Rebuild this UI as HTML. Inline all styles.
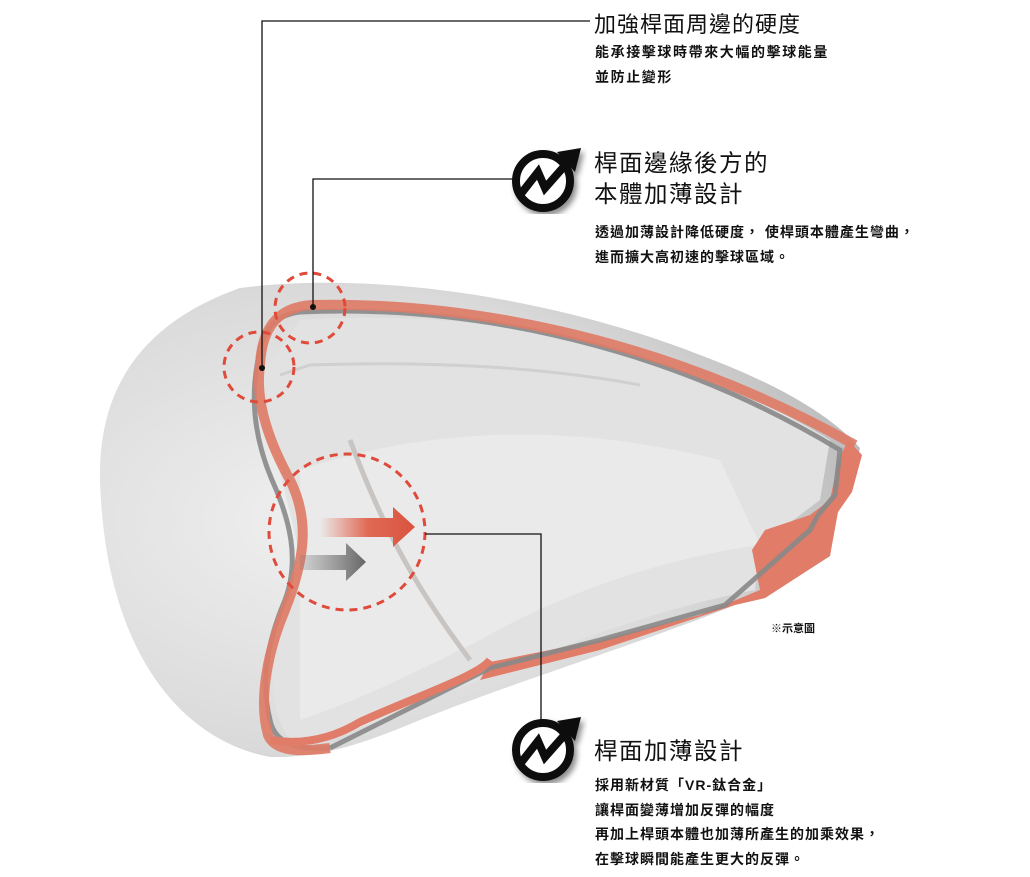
<!DOCTYPE html>
<html><head><meta charset="utf-8"><style>
body{margin:0;background:#fff;width:1030px;height:877px;overflow:hidden;position:relative;font-family:"Liberation Sans","Noto Sans CJK TC",sans-serif;color:#111}
.t{position:absolute;white-space:nowrap}
.h{font-size:22px;font-weight:400;letter-spacing:1px}
.h2{font-size:23.5px;line-height:31px;letter-spacing:1.5px}
.b{font-size:14px;font-weight:700;line-height:24.5px;letter-spacing:1.6px}
</style></head><body>
<svg width="1030" height="877" style="position:absolute;left:0;top:0">
<defs>
<radialGradient id="g1" cx="0.3" cy="0.5" r="0.75"><stop offset="0" stop-color="#f0f0f0"/><stop offset="0.65" stop-color="#dadada"/><stop offset="1" stop-color="#b8b6b6"/></radialGradient>
<linearGradient id="ar" x1="0" x2="1"><stop offset="0" stop-color="#e36a55" stop-opacity="0"/><stop offset="0.5" stop-color="#e06a55"/><stop offset="1" stop-color="#d9533f"/></linearGradient>
<linearGradient id="ag" x1="0" x2="1"><stop offset="0" stop-color="#777" stop-opacity="0.2"/><stop offset="1" stop-color="#666"/></linearGradient>
<filter id="sh"><feDropShadow dx="3" dy="4" stdDeviation="3" flood-opacity="0.45"/></filter>
</defs>
<path d="M270,757 C180,740 105,650 100,480 C98,380 150,320 240,288 C380,270 560,300 700,355 C780,385 830,415 860,448 L852,490 L836,512 L830,556 L765,598 L735,605 C650,640 520,680 420,720 C360,745 320,758 270,757 Z" fill="url(#g1)"/>
<path d="M300,320 C450,310 650,330 830,440 L820,500 L760,545 L755,590 C650,610 550,650 480,680 C400,710 340,745 290,740 C260,700 275,620 300,560 C290,500 265,430 260,380 Z" fill="#e2e2e2"/>
<path d="M300,470 C420,430 560,420 720,460 L760,545 C650,560 550,600 480,640 C420,670 360,700 300,720 Z" fill="#ececec" opacity="0.8"/>
<path d="M350,440 C380,520 410,580 470,660" stroke="#c8c4c2" stroke-width="5" fill="none"/>
<path d="M280,375 L310,365 C450,360 560,370 640,385" stroke="#d0d0d0" stroke-width="3" fill="none"/>
<path d="M848,440 L862,455 L852,492 L838,512 L830,556 L765,598 L735,605 L600,650 L480,680 L490,662 L600,640 L700,615 L760,590 L752,550 L765,530 L810,515 L830,500 L838,462 Z" fill="#e07c68"/>
<path d="M330,748 C300,750 275,745 270,720 C260,680 268,640 285,600 C300,560 290,520 272,480 C255,440 250,400 258,360 C262,330 275,315 300,312 C450,305 650,335 840,450 L835,495 L818,515 L810,530 L725,605 L600,640 L490,668 L330,748" stroke="#888" stroke-width="5" fill="none" opacity="0.9"/>
<path d="M330,748 C300,752 275,752 268,735 C258,700 268,650 285,610 C305,560 310,520 290,480 C268,440 255,400 260,365 C262,325 280,307 312,305 C450,302 650,330 855,445" stroke="#e07c68" stroke-width="10" fill="none" opacity="0.92"/>
<path d="M270,740 C300,745 330,740 360,722 C420,695 480,675 490,660" stroke="#e07c68" stroke-width="8" fill="none"/>
<path d="M320,518 L393,518 L393,507 L415,527 L393,547 L393,537 L320,537 Z" fill="url(#ar)"/>
<path d="M300,555 L346,555 L346,543 L366,562 L346,581 L346,570 L300,570 Z" fill="url(#ag)"/>
<g fill="none" stroke="#e04a3a" stroke-width="3" stroke-dasharray="8,6">
<circle cx="310" cy="308" r="35"/>
<circle cx="259" cy="367" r="35"/>
<circle cx="347" cy="532" r="78"/>
</g>
<g stroke="#111" stroke-width="1.3" fill="none">
<path d="M590,21 H262 V368"/>
<path d="M513,179 H313 V308"/>
<path d="M425,534 H541 V732"/>
</g>
<circle cx="262" cy="368" r="3" fill="#111"/>
<circle cx="313" cy="307" r="3" fill="#111"/>
<g filter="url(#sh)">
<circle cx="543" cy="181" r="27" fill="#fff" stroke="#111" stroke-width="8"/>
<path d="M520,195 L538,172 L545,188 L568,162" stroke="#111" stroke-width="8" fill="none"/>
<path d="M557,152 L581,148 L575,172 Z" fill="#111"/>
</g>
<g transform="translate(0,569)" filter="url(#sh)">
<circle cx="543" cy="181" r="27" fill="#fff" stroke="#111" stroke-width="8"/>
<path d="M520,195 L538,172 L545,188 L568,162" stroke="#111" stroke-width="8" fill="none"/>
<path d="M557,152 L581,148 L575,172 Z" fill="#111"/>
</g>
</svg>
<div class="t h" style="left:594px;top:7px">加強桿面周邊的硬度</div>
<div class="t b" style="left:595px;top:40px">能承接擊球時帶來大幅的擊球能量<br>並防止變形</div>
<div class="t h2" style="left:594px;top:148px">桿面邊緣後方的<br>本體加薄設計</div>
<div class="t b" style="left:595px;top:220px;letter-spacing:1px">透過加薄設計降低硬度， 使桿頭本體產生彎曲，<br>進而擴大高初速的擊球區域。</div>
<div class="t" style="left:771px;top:620px;font-size:11px;font-weight:700">※示意圖</div>
<div class="t h2" style="left:594px;top:736px">桿面加薄設計</div>
<div class="t b" style="left:595px;top:773px;letter-spacing:1px">採用新材質「VR-鈦合金」<br>讓桿面變薄增加反彈的幅度<br>再加上桿頭本體也加薄所產生的加乘效果，<br>在擊球瞬間能產生更大的反彈。</div>
</body></html>
